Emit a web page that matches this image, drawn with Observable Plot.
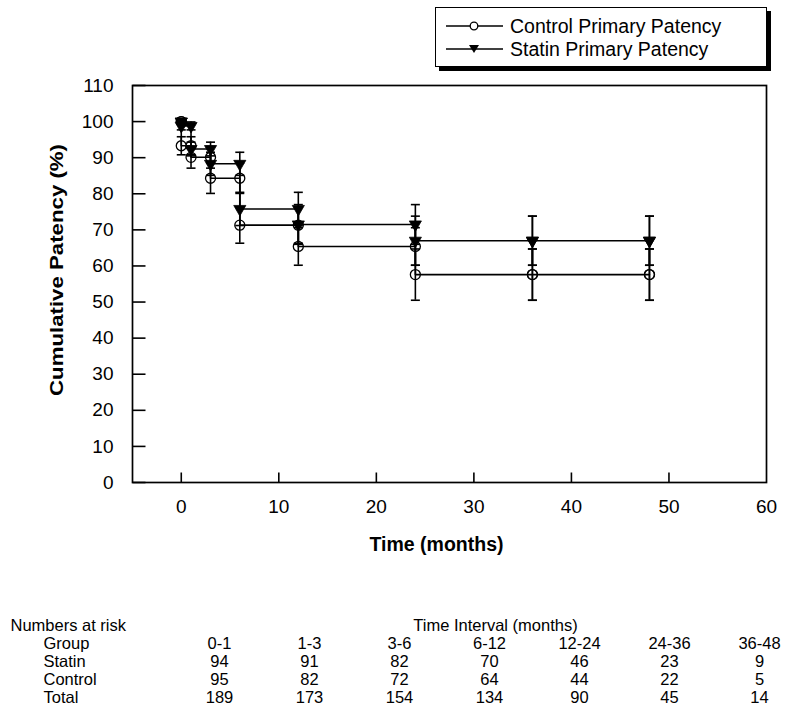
<!DOCTYPE html>
<html>
<head>
<meta charset="utf-8">
<script src="https://cdn.jsdelivr.net/npm/d3@7"></script>
<script src="https://cdn.jsdelivr.net/npm/@observablehq/plot@0.6"></script>
<style>
  body { margin: 0; background: #fff; font-family: "Liberation Sans", Arial, sans-serif; }
  #wrap { position: relative; width: 800px; height: 713px; background: #fff; }
  #wrap svg { display: block; }
  #legend { position: absolute; left: 435px; top: 7px; width: 330px; height: 58px;
            border: 1.5px solid #000; box-shadow: 4px 4px 0 #000; background: #fff; }
  #legend .row { position: absolute; left: 10px; height: 20px; display: flex; align-items: center; }
  #legend .row span { font-size: 19.5px; margin-left: 7px; color: #000; white-space: nowrap; }
</style>
</head>
<body>
<div id="wrap">
  <div id="chart"></div>
  <div id="table"></div>
  <div id="legend"></div>
</div>
<script>
// ---- data ----
const times = [0, 0, 1, 3, 6, 12, 24, 36, 48];
const statinValues  = [100, 98.8, 92.4, 88.3, 75.8, 71.5, 67.0, 67.0, 67.0];
const statinSE      = [0,   1.1,  1.9,  3.2,  4.6,  5.5,  6.8,  6.8,  6.8];
const controlValues = [100, 93.3, 90.1, 84.3, 71.3, 65.4, 57.6, 57.6, 57.6];
const controlSE     = [0,   2.5,  3.0,  4.2,  5.0,  5.2,  7.1,  7.1,  7.1];
const seriesNames = ["Control Primary Patency", "Statin Primary Patency"];
const xTicks = [0, 10, 20, 30, 40, 50, 60];
const yTicks = [0, 10, 20, 30, 40, 50, 60, 70, 80, 90, 100, 110];
const intervals = ["0-1", "1-3", "3-6", "6-12", "12-24", "24-36", "36-48"];
const statinAtRisk  = [94, 91, 82, 70, 46, 23, 9];
const controlAtRisk = [95, 82, 72, 64, 44, 22, 5];
const totalAtRisk   = [189, 173, 154, 134, 90, 45, 14];
const tableRows = ["header", "Group", "Statin", "Control", "Total"];

// ---- derived tables ----
function stepLine(values) { return times.map((t, i) => ({t, v: values[i]})); }
function markers(values, se) {
  const out = [];
  times.forEach((t, i) => {
    out.push({t, v: values[i], se: se[i]});
    if (i > 0) out.push({t, v: values[i - 1], se: se[i - 1]});
  });
  return out;
}
const controlLine = stepLine(controlValues), statinLine = stepLine(statinValues);
const controlMarks = markers(controlValues, controlSE), statinMarks = markers(statinValues, statinSE);
const allMarks = controlMarks.concat(statinMarks).filter(d => d.se > 0);

const capSymbol = {draw(ctx) { ctx.moveTo(-4.5, 0); ctx.lineTo(4.5, 0); }};
const xTickSymbol = {draw(ctx) { ctx.moveTo(0, 0); ctx.lineTo(0, -10); }};
const yTickSymbol = {draw(ctx) { ctx.moveTo(0, 0); ctx.lineTo(13, 0); }};

const font = "'Liberation Sans', Arial, sans-serif";

const chart = Plot.plot({
  width: 800,
  height: 600,
  marginLeft: 132,
  marginRight: 34,
  marginTop: 85,
  marginBottom: 118,
  style: {fontFamily: font, fontSize: "19px", color: "#000", background: "#fff", overflow: "visible"},
  x: {domain: [-5, 60], label: null},
  y: {domain: [0, 110], label: null},
  marks: [
    Plot.axisX(xTicks, {tickSize: 0, tickPadding: 17, fontSize: 19}),
    Plot.axisY(yTicks, {tickSize: 0, tickPadding: 19, fontSize: 19}),
    Plot.dot(xTicks.slice(0, -1), {x: d => d, y: () => 0, symbol: xTickSymbol, stroke: "#000", fill: "none", strokeWidth: 1.6}),
    Plot.dot(yTicks, {x: () => -5, y: d => d, symbol: yTickSymbol, stroke: "#000", fill: "none", strokeWidth: 1.6}),
    Plot.frame({stroke: "#000", strokeWidth: 1.7}),
    // error bars
    Plot.ruleX(allMarks, {x: "t", y1: d => d.v - d.se, y2: d => d.v + d.se, stroke: "#000", strokeWidth: 1.6}),
    Plot.dot(allMarks, {x: "t", y: d => d.v + d.se, symbol: capSymbol, stroke: "#000", fill: "none", strokeWidth: 1.6}),
    Plot.dot(allMarks, {x: "t", y: d => d.v - d.se, symbol: capSymbol, stroke: "#000", fill: "none", strokeWidth: 1.6}),
    // step curves
    Plot.line(controlLine, {x: "t", y: "v", curve: "step-after", stroke: "#000", strokeWidth: 1.6}),
    Plot.line(statinLine, {x: "t", y: "v", curve: "step-after", stroke: "#000", strokeWidth: 1.6}),
    // markers
    Plot.dot(controlMarks, {x: "t", y: "v", r: 5, symbol: "circle", stroke: "#000", fill: "none", strokeWidth: 1.3}),
    Plot.dot(statinMarks, {x: "t", y: "v", r: 4.5, symbol: "triangle", rotate: 180, fill: "#000", stroke: "#000", strokeWidth: 0.8}),
    // axis titles
    Plot.text(["Time (months)"], {frameAnchor: "bottom", dx: -13, dy: 68, text: d => d, fontWeight: "bold", fontSize: 19.5}),
    Plot.text(["Cumulative Patency (%)"], {frameAnchor: "left", dx: -70, dy: 112, rotate: -90, text: d => d,
      fontWeight: "bold", fontSize: 18, lineAnchor: "bottom", textAnchor: "start"})
  ]
});
chart.querySelectorAll("text").forEach(t => {
  if (t.textContent === "Cumulative Patency (%)") {
    t.setAttribute("textLength", "252");
    t.setAttribute("lengthAdjust", "spacingAndGlyphs");
  }
});
document.getElementById("chart").appendChild(chart);

// ---- numbers-at-risk table ----
const cells = [];
intervals.forEach((iv, i) => {
  cells.push({interval: iv, row: "Statin", value: statinAtRisk[i]});
  cells.push({interval: iv, row: "Control", value: controlAtRisk[i]});
  cells.push({interval: iv, row: "Total", value: totalAtRisk[i]});
});
const table = Plot.plot({
  width: 800,
  height: 113,
  margin: 0,
  style: {fontFamily: font, fontSize: "16.5px", color: "#000", background: "#fff"},
  x: {type: "point", domain: intervals, range: [216, 761], padding: 0, axis: null},
  y: {type: "point", domain: tableRows, range: [23, 98], padding: 0, axis: null},
  marks: [
    Plot.text(["Numbers at risk"], {y: () => "header", frameAnchor: "left", dx: 10, textAnchor: "start", text: d => d}),
    Plot.text(["Time Interval (months)"], {x: () => "6-12", y: () => "header", dx: 6, text: d => d}),
    Plot.text(tableRows.slice(1), {y: d => d, frameAnchor: "left", dx: 43, textAnchor: "start", text: d => d}),
    Plot.text(intervals, {x: d => d, y: () => "Group", text: d => d}),
    Plot.text(cells, {x: "interval", y: "row", text: d => String(d.value)})
  ]
});
document.getElementById("table").appendChild(table);

// ---- legend ----
const legend = document.getElementById("legend");
const rowsTop = [8, 31];
seriesNames.forEach((name, i) => {
  const row = document.createElement("div");
  row.className = "row";
  row.style.top = rowsTop[i] + "px";
  const sym = i === 0
    ? '<circle cx="28" cy="10" r="3.8" fill="#fff" stroke="#000" stroke-width="1.3"/>'
    : '<path d="M23,6 L33,6 L28,14 Z" fill="#000"/>';
  row.innerHTML = '<svg width="57" height="20"><line x1="0" x2="57" y1="10" y2="10" stroke="#000" stroke-width="1.5"/>' + sym + '</svg><span>' + name + '</span>';
  legend.appendChild(row);
});
</script>
</body>
</html>
